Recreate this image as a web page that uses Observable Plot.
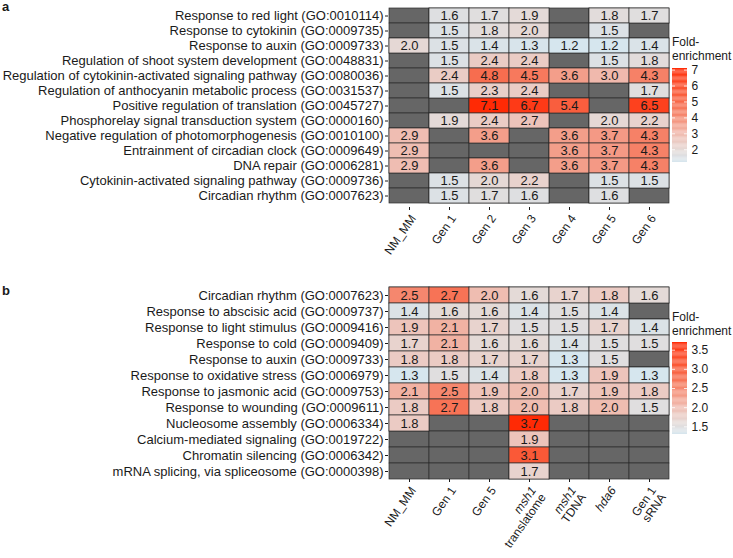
<!DOCTYPE html>
<html><head><meta charset="utf-8">
<script src="https://cdn.jsdelivr.net/npm/d3@7"></script>
<script src="https://cdn.jsdelivr.net/npm/@observablehq/plot@0.6"></script>
<style>
body{margin:0;background:#fff;}
#wrap{position:relative;width:733px;height:558px;overflow:hidden;font-family:"Liberation Sans",Arial,sans-serif;color:#1a1a1a;}
.abs{position:absolute;}
.letter{font-weight:bold;font-size:13px;line-height:15px;}
.ltitle{font-size:12px;line-height:14px;}
</style></head><body><div id="wrap"></div>
<script>
// ---- Panel a ----
const colsA = ["NM_MM","Gen 1","Gen 2","Gen 3","Gen 4","Gen 5","Gen 6"];
const termsA = [
  "Response to red light (GO:0010114)",
  "Response to cytokinin (GO:0009735)",
  "Response to auxin (GO:0009733)",
  "Regulation of shoot system development (GO:0048831)",
  "Regulation of cytokinin-activated signaling pathway (GO:0080036)",
  "Regulation of anthocyanin metabolic process (GO:0031537)",
  "Positive regulation of translation (GO:0045727)",
  "Phosphorelay signal transduction system (GO:0000160)",
  "Negative regulation of photomorphogenesis (GO:0010100)",
  "Entrainment of circadian clock (GO:0009649)",
  "DNA repair (GO:0006281)",
  "Cytokinin-activated signaling pathway (GO:0009736)",
  "Circadian rhythm (GO:0007623)"
];
const valsA = [
  [null,1.6,1.7,1.9,null,1.8,1.7],
  [null,1.5,1.8,2.0,null,1.5,null],
  [2.0,1.5,1.4,1.3,1.2,1.2,1.4],
  [null,1.5,2.4,2.4,null,1.5,1.8],
  [null,2.4,4.8,4.5,3.6,3.0,4.3],
  [null,1.5,2.3,2.4,null,null,1.7],
  [null,null,7.1,6.7,5.4,null,6.5],
  [null,1.9,2.4,2.7,null,2.0,2.2],
  [2.9,null,3.6,null,3.6,3.7,4.3],
  [2.9,null,null,null,3.6,3.7,4.3],
  [2.9,null,3.6,null,3.6,3.7,4.3],
  [null,1.5,2.0,2.2,null,1.5,1.5],
  [null,1.5,1.7,1.6,null,1.6,null]
];
const tickLabelsA = ["NM_MM","Gen 1","Gen 2","Gen 3","Gen 4","Gen 5","Gen 6"];
const legendTicksA = [2,3,4,5,6,7];

// ---- Panel b ----
const colsB = ["NM_MM","Gen 1","Gen 5","msh1 translatome","msh1 TDNA","hda6","Gen 1 sRNA"];
const termsB = [
  "Circadian rhythm (GO:0007623)",
  "Response to abscisic acid (GO:0009737)",
  "Response to light stimulus (GO:0009416)",
  "Response to cold (GO:0009409)",
  "Response to auxin (GO:0009733)",
  "Response to oxidative stress (GO:0006979)",
  "Response to jasmonic acid (GO:0009753)",
  "Response to wounding (GO:0009611)",
  "Nucleosome assembly (GO:0006334)",
  "Calcium-mediated signaling (GO:0019722)",
  "Chromatin silencing (GO:0006342)",
  "mRNA splicing, via spliceosome (GO:0000398)"
];
const valsB = [
  [2.5,2.7,2.0,1.6,1.7,1.8,1.6],
  [1.4,1.6,1.6,1.4,1.5,1.4,null],
  [1.9,2.1,1.7,1.5,1.5,1.7,1.4],
  [1.7,2.1,1.6,1.6,1.4,1.5,1.5],
  [1.8,1.8,1.7,1.7,1.3,1.5,null],
  [1.3,1.5,1.4,1.8,1.3,1.9,1.3],
  [2.1,2.5,1.9,2.0,1.7,1.9,1.8],
  [1.8,2.7,1.8,2.0,1.8,2.0,1.5],
  [1.8,null,null,3.7,null,null,null],
  [null,null,null,1.9,null,null,null],
  [null,null,null,3.1,null,null,null],
  [null,null,null,1.7,null,null,null]
];
const tickLabelsB = ["NM_MM","Gen 1","Gen 5","msh1\ntranslatome","msh1\nTDNA","hda6","Gen 1\nsRNA"];
const legendTicksB = [1.5,2.0,2.5,3.0,3.5];

const italicWords = ["msh1","hda6"];

// colour ramp (fractions of the data range)
const rampStops = [0,0.13,0.29,0.45,0.62,1];
const rampColors = ["#d6e6ee","#e5d9d6","#efbdb2","#f4927c","#f76a4c","#ff2a05"];

const FONT = '"Liberation Sans", Arial, sans-serif';
const wrap = document.getElementById("wrap");

function colorScale(lo, hi) {
  return {type:"linear", domain: rampStops.map(s => lo + s*(hi-lo)), range: rampColors, interpolate:"lab"};
}

function place(node, left, top) {
  node.classList.add("abs");
  node.style.left = left + "px";
  node.style.top = top + "px";
  wrap.appendChild(node);
  return node;
}

function heatmap(terms, cols, vals, tickLabels, o) {
  const all = [], data = [];
  terms.forEach((t,i) => cols.forEach((c,j) => {
    all.push({t,c});
    if (vals[i][j] != null) data.push({t,c,v:vals[i][j]});
  }));
  const lo = d3.min(data, d=>d.v), hi = d3.max(data, d=>d.v);
  const p = Plot.plot({
    width:733, height:o.height, marginLeft:388, marginRight:64, marginTop:o.marginTop, marginBottom:o.marginBottom,
    style:{fontFamily:FONT, fontSize:"12px", color:"#1a1a1a", background:"transparent"},
    x:{domain:cols, padding:0, label:null},
    y:{domain:terms, padding:0, label:null},
    color: colorScale(lo, hi),
    marks:[
      Plot.cell(all,{x:"c",y:"t",fill:"#666666",stroke:"#2b2b2b",strokeWidth:0.7}),
      Plot.cell(data,{x:"c",y:"t",fill:"v",stroke:"#2b2b2b",strokeWidth:0.7}),
      Plot.text(data,{x:"c",y:"t",text:d=>d.v.toFixed(1),fill:"#1a1a1a",fontSize:13}),
      Plot.axisY({tickSize:3, tickPadding:2, fontSize:13, label:null}),
      Plot.axisX({tickSize:3, tickPadding:3, tickRotate:-55, lineAnchor:"top", fontSize:12,
                  tickFormat: c => tickLabels[cols.indexOf(c)], label:null})
    ]
  });
  return {p, lo, hi};
}

function legend(lo, hi, ticks, o) {
  const n = 80, step = (hi-lo)/n;
  const bands = d3.range(n).map(i => ({y1: lo+i*step, y2: lo+(i+1)*step, v: lo+(i+0.5)*step}));
  return Plot.plot({
    width:61, height:o.height, marginLeft:0, marginRight:46, marginTop:o.marginTop, marginBottom:o.marginBottom,
    style:{fontFamily:FONT, fontSize:"12px", color:"#1a1a1a", background:"transparent", overflow:"visible"},
    x:{domain:[0,1], axis:null},
    y:{domain:[lo,hi], axis:null},
    color: colorScale(lo, hi),
    marks:[
      Plot.rectY(bands,{x1:0,x2:1,y1:"y1",y2:"y2",fill:"v",inset:0}),
      Plot.ruleY(ticks,{x1:0,x2:0.2,stroke:"white",strokeWidth:0.8}),
      Plot.ruleY(ticks,{x1:0.8,x2:1,stroke:"white",strokeWidth:0.8}),
      Plot.axisY(ticks,{anchor:"right", tickSize:0, tickPadding:4, tickFormat: o.fmt, label:null})
    ]
  });
}

// Panel a
const A = heatmap(termsA, colsA, valsA, tickLabelsA, {height:270, marginTop:3, marginBottom:63});
place(A.p, 0, 0);
place(legend(A.lo, A.hi, legendTicksA, {height:170, marginTop:68, marginBottom:8, fmt: d=>String(d)}), 672, 0);

// Panel b
const B = heatmap(termsB, colsB, valsB, tickLabelsB, {height:278, marginTop:7, marginBottom:79});
place(B.p, 0, 280);
place(legend(B.lo, B.hi, legendTicksB, {height:162, marginTop:62, marginBottom:8, fmt: d=>d.toFixed(1)}), 672, 280);

// italic gene names in panel b axis labels
B.p.querySelectorAll('g[aria-label="x-axis tick label"] text').forEach(t => {
  const spans = t.querySelectorAll("tspan");
  if (spans.length) spans.forEach(s => { if (italicWords.includes(s.textContent.trim())) s.style.fontStyle = "italic"; });
  else if (italicWords.includes(t.textContent.trim())) t.style.fontStyle = "italic";
});

// letters and legend titles
function label(html, cls, left, top) {
  const d = document.createElement("div");
  d.className = cls; d.innerHTML = html;
  return place(d, left, top);
}
label("a","letter",2,-1);
label("b","letter",2,283);
label("Fold-<br>enrichment","ltitle",672,35);
label("Fold-<br>enrichment","ltitle",672,310);
</script></body></html>
